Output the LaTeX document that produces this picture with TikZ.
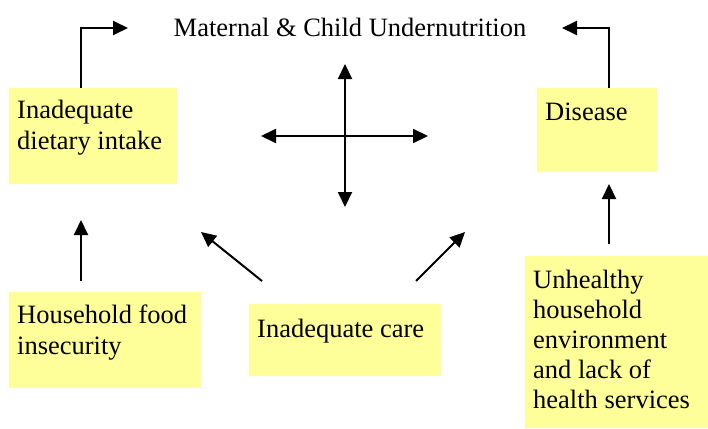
\documentclass[tikz,border=0pt]{standalone}
\usepackage{fontspec}
\setmainfont{Liberation Serif}
\newfontfamily\tnrfont{Liberation Serif}
\usetikzlibrary{arrows.meta}
\definecolor{boxyellow}{HTML}{FFFF99}
\begin{document}
\begin{tikzpicture}[x=1pt,y=-1pt,
  box/.style={fill=boxyellow, draw=none, inner sep=0pt, anchor=north west},
  lbl/.style={anchor=base west, inner sep=0pt, font=\tnrfont\fontsize{26.5}{30}\selectfont},
  arr/.style={line width=2pt, -{Triangle[length=15pt,width=14pt]}},
  darr/.style={line width=2pt, {Triangle[length=15pt,width=14pt]}-{Triangle[length=15pt,width=14pt]}}]
\useasboundingbox[fill=white] (0,0) rectangle (708,428);

% boxes
\node[box, minimum width=168pt, minimum height=96pt] (b1) at (9,88) {};
\node[box, minimum width=120pt, minimum height=84pt] (b2) at (537,88) {};
\node[box, minimum width=192pt, minimum height=96pt] (b3) at (9,292) {};
\node[box, minimum width=192pt, minimum height=72pt] (b4) at (249,304) {};
\node[box, minimum width=183pt, minimum height=172pt] (b5) at (525,256) {};

% texts
\node[lbl, anchor=base] (title) at (350,37) {Maternal \& Child Undernutrition};
\node[lbl] (t1a) at (17,118) {Inadequate};
\node[lbl] (t1b) at (17,149) {dietary intake};
\node[lbl] (t2a) at (545,120) {Disease};
\node[lbl] (t3a) at (17,323) {Household food};
\node[lbl] (t3b) at (17,354) {insecurity};
\node[lbl] (t4a) at (257,337) {Inadequate care};
\node[lbl] (t5a) at (533,288) {Unhealthy};
\node[lbl] (t5b) at (533,318) {household};
\node[lbl] (t5c) at (533,348) {environment};
\node[lbl] (t5d) at (533,378) {and lack of};
\node[lbl] (t5e) at (533,408) {health services};

% coordinates for free ends
\coordinate (e1) at (128,28);
\coordinate (e2) at (562,28);
\coordinate (ctop) at (345,64);
\coordinate (cbot) at (345,207);
\coordinate (cleft) at (261,136);
\coordinate (cright) at (428,136);
\coordinate (u1s) at (81,281);
\coordinate (u1e) at (81,220);
\coordinate (u2s) at (609,244);
\coordinate (u2e) at (609,184);
\coordinate (d1s) at (262,281);
\coordinate (d1e) at (201,232);
\coordinate (d2s) at (416,281);
\coordinate (d2e) at (465,232);

% connectors
\draw[arr] ([xshift=72pt]b1.north west) |- (e1);
\draw[arr] ([xshift=72pt]b2.north west) |- (e2);
\draw[darr] (ctop) -- (cbot);
\draw[darr] (cleft) -- (cright);
\draw[arr] (u1s) -- (u1e);
\draw[arr] (u2s) -- (u2e);
\draw[arr] (d1s) -- (d1e);
\draw[arr] (d2s) -- (d2e);
\end{tikzpicture}
\end{document}
